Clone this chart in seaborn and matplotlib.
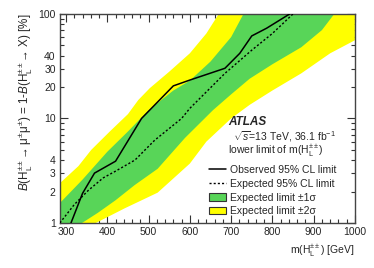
import numpy as np
import seaborn as sns
import matplotlib.pyplot as plt
from matplotlib.patches import Patch
from matplotlib.lines import Line2D
from matplotlib.ticker import FixedLocator, FixedFormatter

# ---------------- data ----------------
obs_mass = [312, 340, 369, 420, 483, 560, 600, 685, 721, 750, 786, 842]
obs_limit = [1.0, 1.92, 3.0, 3.9, 10.0, 20.5, 23.3, 30.2, 42.0, 61.6, 73.0, 100.0]

exp_mass = [285, 320, 354, 390, 418, 467, 515, 580, 600, 685, 750, 800, 850]
exp_limit = [1.0, 1.5, 2.05, 2.7, 3.1, 4.0, 6.2, 10.0, 12.5, 27.0, 45.0, 65.0, 100.0]

# +-1 sigma band edges
s1_up_mass = [285, 340, 400, 450, 500, 560, 600, 650, 700, 730, 740]
s1_up = [1.55, 2.6, 4.8, 7.5, 12.0, 18.5, 23.0, 35.0, 60.0, 100.0, 150.0]
s1_lo_mass = [285, 330, 377, 420, 466, 522, 588, 656, 700, 745, 800, 870, 920, 950, 960]
s1_lo = [0.55, 0.95, 1.25, 1.65, 2.3, 3.3, 6.5, 12.0, 17.0, 24.0, 33.0, 48.0, 70.0, 100.0, 150.0]

# +-2 sigma band edges
s2_up_mass = [285, 330, 361, 406, 450, 475, 503, 550, 600, 640, 670, 680, 1000]
s2_up = [2.4, 3.5, 5.0, 7.5, 11.0, 15.0, 19.5, 28.0, 42.0, 65.0, 100.0, 150.0, 150.0]
s2_lo_mass = [285, 368, 442, 522, 600, 640, 700, 745, 800, 870, 940, 1000]
s2_lo = [0.35, 0.98, 1.38, 1.95, 3.7, 6.0, 10.0, 13.5, 18.5, 27.0, 42.0, 56.0]

x_ticks = [300, 400, 500, 600, 700, 800, 900, 1000]
y_major = [1, 10, 100]
y_minor = [2, 3, 4, 5, 6, 7, 8, 9, 20, 30, 40, 50, 60, 70, 80, 90]
y_minor_labels = ["2", "3", "4", "", "", "", "", "", "20", "30", "40", "", "", "", "", ""]

green = "#58d558"
yellow = "#ffff00"

# ---------------- style ----------------
sns.set_style("ticks")
plt.rcParams["font.family"] = ["Liberation Sans", "DejaVu Sans"]
plt.rcParams["mathtext.fontset"] = "custom"
plt.rcParams["mathtext.rm"] = "Liberation Sans"
plt.rcParams["mathtext.it"] = "Liberation Sans:italic"
plt.rcParams["mathtext.bf"] = "Liberation Sans:bold"
plt.rcParams["font.size"] = 7.5

fig = plt.figure(figsize=(3.74, 2.68), dpi=100)
ax = fig.add_axes([0.160, 0.168, 0.789, 0.780])

# bands
ax.fill(np.concatenate([s2_up_mass, s2_lo_mass[::-1]]),
        np.concatenate([s2_up, s2_lo[::-1]]), color=yellow, lw=0, zorder=1)
ax.fill(np.concatenate([s1_up_mass, s1_lo_mass[::-1]]),
        np.concatenate([s1_up, s1_lo[::-1]]), color=green, lw=0, zorder=2)

# limits
sns.lineplot(x=exp_mass, y=exp_limit, ax=ax, color="black", lw=1.0,
             linestyle=(0, (1.5, 1.5)), zorder=3)
sns.lineplot(x=obs_mass, y=obs_limit, ax=ax, color="black", lw=1.1, zorder=4)

ax.set_yscale("log")
ax.set_xlim(285, 1000)
ax.set_ylim(1, 100)

ax.xaxis.set_major_locator(FixedLocator(x_ticks))
ax.xaxis.set_minor_locator(FixedLocator(np.arange(300, 1001, 20)))
ax.yaxis.set_major_locator(FixedLocator(y_major))
ax.yaxis.set_major_formatter(FixedFormatter([str(v) for v in y_major]))
ax.yaxis.set_minor_locator(FixedLocator(y_minor))
ax.yaxis.set_minor_formatter(FixedFormatter(y_minor_labels))

ax.tick_params(which="both", direction="in", top=True, right=True,
               color="#333333", labelsize=7.5, width=0.8)
ax.tick_params(which="major", length=6, pad=3)
ax.tick_params(which="minor", length=3, pad=3)
for s in ax.spines.values():
    s.set_color("#444444")
    s.set_linewidth(1.0)

ax.set_xlabel(r"m(H$^{\pm\pm}_{\mathrm{L}}$) [GeV]", loc="right", fontsize=7.5)
ax.set_ylabel(r"$\it{B}$(H$^{\pm\pm}_{\mathrm{L}}$→ μ$^{\pm}$μ$^{\pm}$) = 1-$\it{B}$(H$^{\pm\pm}_{\mathrm{L}}$→ X) [%]",
              loc="top", fontsize=8.4, labelpad=3)

# text block
ax.text(0.569, 0.483, "ATLAS", transform=ax.transAxes, fontsize=8.5,
        fontweight="bold", fontstyle="italic", va="center")
ax.text(0.586, 0.411, r"$\sqrt{s}$=13 TeV, 36.1 fb$^{-1}$", transform=ax.transAxes,
        fontsize=7.5, va="center")
ax.text(0.569, 0.344, r"lower limit of m(H$^{\pm\pm}_{\mathrm{L}}$)", transform=ax.transAxes,
        fontsize=7.5, va="center")

handles = [
    Line2D([], [], color="black", lw=1.1),
    Line2D([], [], color="black", lw=1.0, linestyle=(0, (1.5, 1.5))),
    Patch(facecolor=green, edgecolor="#333333", lw=0.8),
    Patch(facecolor=yellow, edgecolor="#333333", lw=0.8),
]
labels = ["Observed 95% CL limit", "Expected 95% CL limit",
          "Expected limit ±1σ", "Expected limit ±2σ"]
ax.legend(handles, labels, loc="lower left", bbox_to_anchor=(0.50, 0.022),
          frameon=False, fontsize=7.5, handlelength=1.6, handleheight=0.7,
          handletextpad=0.4, labelspacing=0.36, borderpad=0.2, borderaxespad=0)

fig.savefig("out.png", dpi=100)
